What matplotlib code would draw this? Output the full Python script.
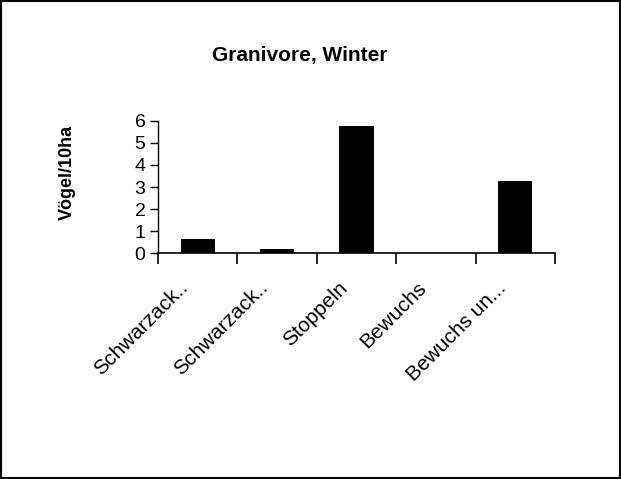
import matplotlib
matplotlib.use("Agg")
import matplotlib.pyplot as plt
from matplotlib.patches import Rectangle
from matplotlib.transforms import ScaledTranslation

plt.rcParams['font.family'] = ['Liberation Sans', 'DejaVu Sans']

# Data
categories = ['Schwarzack..', 'Schwarzack..', 'Stoppeln', 'Bewuchs', 'Bewuchs un...']
values = [0.63, 0.17, 5.75, 0.0, 3.26]
y_ticks = [0, 1, 2, 3, 4, 5, 6]


def main():
    fig = plt.figure(figsize=(6.21, 4.79), dpi=100)
    ax = fig.add_axes([0.2544, 0.4718, 0.6393, 0.2756])

    x = list(range(len(categories)))
    ax.bar(x, values, width=0.43, color='black')

    ax.set_xlim(-0.5, len(categories) - 0.5)
    ax.set_ylim(0, 6)
    ax.set_yticks(y_ticks)
    ax.tick_params(axis='y', labelsize=14, length=6, width=1, pad=3)

    # category ticks sit on the boundaries between groups
    ax.set_xticks([i - 0.5 for i in range(len(categories) + 1)])
    ax.set_xticklabels([])
    ax.tick_params(axis='x', length=8, width=1.2, direction='out')
    ax.set_xticks(x, minor=True)
    ax.set_xticklabels(categories, minor=True, rotation=45, ha='right',
                       rotation_mode='anchor', fontsize=15)
    ax.tick_params(axis='x', which='minor', length=0, pad=18)
    shift = ScaledTranslation(-0.19, 0, fig.dpi_scale_trans)
    for lbl in ax.get_xticklabels(minor=True):
        lbl.set_transform(lbl.get_transform() + shift)

    for side in ['top', 'right']:
        ax.spines[side].set_visible(False)
    ax.spines['left'].set_linewidth(1)
    ax.spines['bottom'].set_linewidth(1.2)

    fig.text(0.483, 0.885, 'Granivore, Winter', ha='center', va='center',
             fontsize=15, fontweight='bold')
    fig.text(0.108, 0.64, 'Vögel/10ha', ha='center', va='center',
             rotation=90, fontsize=13, fontweight='bold')

    fig.patches.append(Rectangle((0.002, 0.002), 0.996, 0.996,
                                 transform=fig.transFigure, fill=False,
                                 edgecolor='black', linewidth=1.5))

    fig.savefig('out.png', dpi=100)


if __name__ == "__main__":
    main()
